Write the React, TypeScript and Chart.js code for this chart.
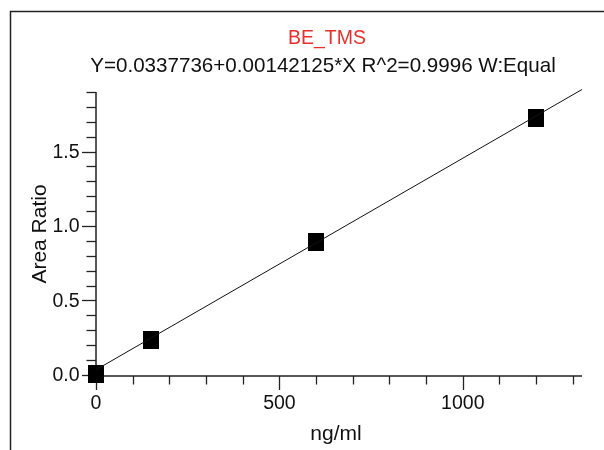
import React, { useEffect, useRef } from 'react';
import { Chart, registerables } from 'chart.js';

Chart.register(...registerables);

// ---- data ----
const concentrations = [0, 150, 600, 1200];
const areaRatios = [0.006, 0.235, 0.895, 1.727];
const fitX = [0, 1325];
const fitY = [0.0338, 1.917];
const xMajorTicks = [0, 500, 1000];
const xAllTicks = [0, 100, 200, 300, 400, 500, 600, 700, 800, 900, 1000, 1100, 1200, 1300];
const yMajorTicks = [0, 0.5, 1.0, 1.5];
const yAllTicks = [0, 0.1, 0.2, 0.3, 0.4, 0.5, 0.6, 0.7, 0.8, 0.9, 1.0, 1.1, 1.2, 1.3, 1.4, 1.5, 1.6, 1.7, 1.8, 1.9];
const titleText = 'BE_TMS';
const subtitleText = 'Y=0.0337736+0.00142125*X R^2=0.9996 W:Equal';
const xAxisTitle = 'ng/ml';
const yAxisTitle = 'Area Ratio';

const FONT = '"Liberation Sans", Arial, Helvetica, sans-serif';

function isMajor(list: number[], v: number) {
  return list.some((m) => Math.abs(m - v) < 1e-9);
}

const axesPlugin = {
  id: 'customAxes',
  beforeDatasetsDraw(chart: any) {
    const ctx = chart.ctx as CanvasRenderingContext2D;
    const xs = chart.scales.x;
    const ys = chart.scales.y;
    const left = xs.left;
    const bottom = ys.bottom;
    ctx.save();
    ctx.strokeStyle = '#222';
    ctx.lineWidth = 1.5;
    // frame
    ctx.beginPath();
    ctx.moveTo(10.5, 450);
    ctx.lineTo(10.5, 11.5);
    ctx.lineTo(604, 11.5);
    ctx.stroke();
    // axes
    const yTop = ys.getPixelForValue(1.9);
    ctx.beginPath();
    ctx.moveTo(left, yTop);
    ctx.lineTo(left, bottom);
    ctx.lineTo(xs.right, bottom);
    ctx.stroke();
    // ticks
    ctx.lineWidth = 1.3;
    yAllTicks.forEach((v) => {
      const py = Math.round(ys.getPixelForValue(v)) + 0.5;
      const len = isMajor(yMajorTicks, v) ? 14 : 9.5;
      ctx.beginPath();
      ctx.moveTo(left - len, py);
      ctx.lineTo(left, py);
      ctx.stroke();
    });
    xAllTicks.forEach((v) => {
      const px = Math.round(xs.getPixelForValue(v)) + 0.5;
      const len = isMajor(xMajorTicks, v) ? 14 : 8.5;
      ctx.beginPath();
      ctx.moveTo(px, bottom);
      ctx.lineTo(px, bottom + len);
      ctx.stroke();
    });
    // tick labels
    ctx.fillStyle = '#111';
    ctx.font = `19.5px ${FONT}`;
    ctx.textAlign = 'right';
    ctx.textBaseline = 'middle';
    yMajorTicks.forEach((v) => {
      ctx.fillText(v.toFixed(1), 79.5, ys.getPixelForValue(v) + 1);
    });
    ctx.textAlign = 'center';
    xMajorTicks.forEach((v) => {
      ctx.fillText(String(v), xs.getPixelForValue(v), 404);
    });
    // axis titles
    ctx.font = `21px ${FONT}`;
    ctx.fillText(xAxisTitle, 336, 434);
    ctx.save();
    ctx.translate(40, 234);
    ctx.rotate(-Math.PI / 2);
    ctx.fillText(yAxisTitle, 0, 0);
    ctx.restore();
    // titles
    ctx.fillStyle = '#e8302a';
    ctx.font = `19.5px ${FONT}`;
    ctx.fillText(titleText, 327, 39);
    ctx.fillStyle = '#111';
    ctx.font = `20.6px ${FONT}`;
    ctx.fillText(subtitleText, 323, 66);
    ctx.restore();
  },
};

function makeSquare(): HTMLCanvasElement {
  const c = document.createElement('canvas');
  c.width = 16;
  c.height = 18;
  const g = c.getContext('2d')!;
  g.fillStyle = '#000';
  g.fillRect(0, 0, 16, 18);
  return c;
}

export default function App() {
  const ref = useRef<HTMLCanvasElement | null>(null);
  useEffect(() => {
    if (!ref.current) return;
    const square = makeSquare();
    const chart = new Chart(ref.current, {
      type: 'scatter',
      data: {
        datasets: [
          {
            label: 'fit',
            data: fitX.map((x, i) => ({ x, y: fitY[i] })),
            showLine: true,
            borderColor: '#111',
            borderWidth: 1,
            pointRadius: 0,
            clip: false as any,
          },
          {
            label: 'points',
            data: concentrations.map((x, i) => ({ x, y: areaRatios[i] })),
            pointStyle: square as any,
            pointRadius: 9,
            backgroundColor: '#000',
            borderColor: '#000',
            clip: false as any,
          },
        ],
      },
      options: {
        responsive: false,
        animation: false,
        layout: { padding: { left: 96, right: 22, top: 92, bottom: 74 } },
        plugins: { legend: { display: false }, tooltip: { enabled: false }, title: { display: false } },
        scales: {
          x: { type: 'linear', min: 0, max: 1325, display: false },
          y: { type: 'linear', min: -0.008, max: 1.9, display: false },
        },
      },
      plugins: [axesPlugin],
    });
    return () => chart.destroy();
  }, []);
  return (
    <div style={{ position: 'absolute', left: 0, top: 0, width: 604, height: 450, background: '#fff' }}>
      <canvas ref={ref} width={604} height={450} style={{ display: 'block' }} />
    </div>
  );
}
